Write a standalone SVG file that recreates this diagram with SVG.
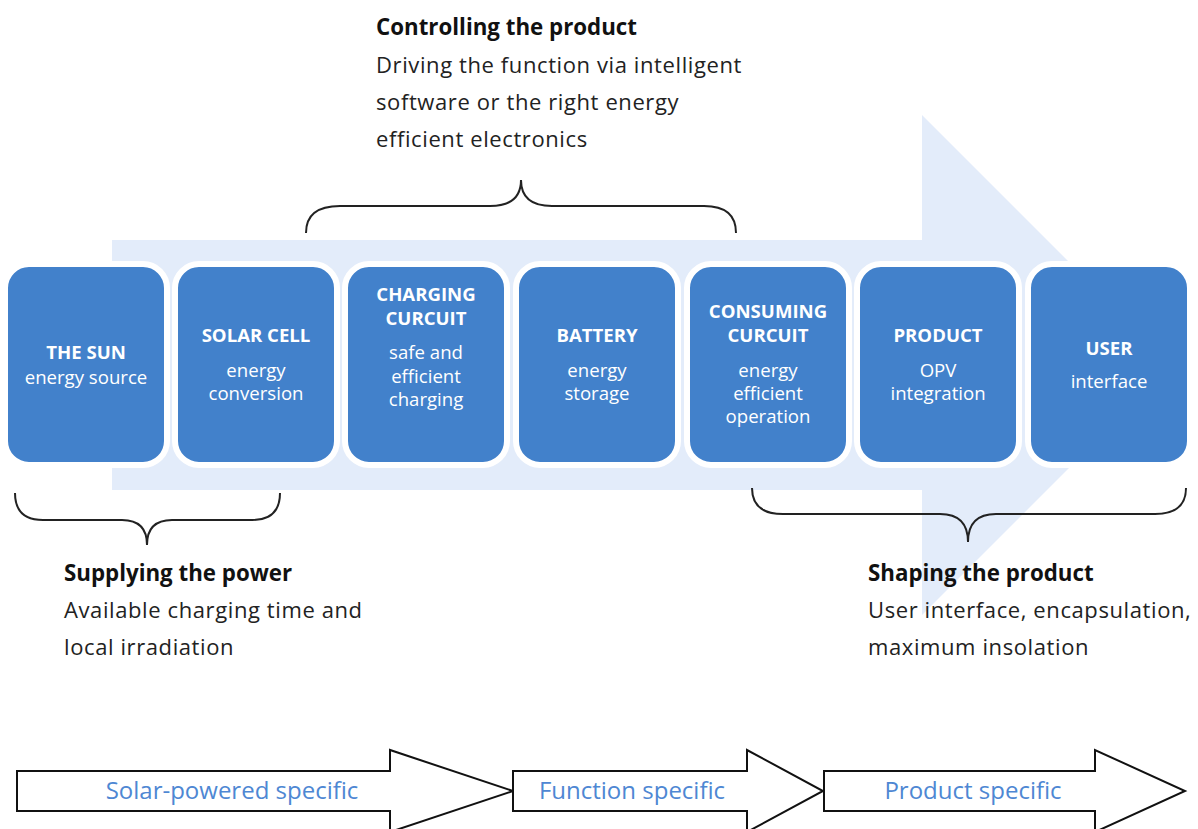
<svg xmlns="http://www.w3.org/2000/svg" width="1198" height="829" viewBox="0 0 1198 829">
<style>
.box{fill:#4281CB;stroke:#ffffff;stroke-width:6}
.t{font-family:"Open Sans","Liberation Sans",sans-serif;font-size:18.6px;fill:#ffffff;text-anchor:middle}
.b{font-weight:bold}
.h{font-family:"Open Sans","Liberation Sans",sans-serif;font-size:22.3px;font-weight:bold;fill:#111111}
.p{font-family:"Open Sans","Liberation Sans",sans-serif;font-size:22px;letter-spacing:0.6px;fill:#222222}
.brace{fill:none;stroke:#222222;stroke-width:2}
.blk{fill:#ffffff;stroke:#111111;stroke-width:2}
.at{font-family:"Open Sans","Liberation Sans",sans-serif;font-size:24px;fill:#4E87D3;text-anchor:middle}
</style>
<rect width="1198" height="829" fill="#ffffff"/>
<g id="flow-arrow">
<polygon points="112,240 922,240 922,115 1172,365 922,615 922,490 112,490" fill="#E3ECFA"/>
</g>
<g id="connectors">
<path class="brace" d="M306,233 Q306,206 340,206 L490,206 Q521,206 521,180 Q521,206 552,206 L704,206 Q736,206 736,233"/>
<path class="brace" d="M15,493 Q15,520 43,520 L122,520 Q147,520 147,545 Q147,520 172,520 L252,520 Q280,520 280,493"/>
<path class="brace" d="M752,488 Q752,514 783,514 L940,514 Q968,514 968,542 Q968,514 996,514 L1155,514 Q1186,514 1186,488"/>
</g>
<g id="sun">
<rect class="box" x="5" y="264" width="162" height="201" rx="24"/>
<text class="t b" x="86" y="359">THE SUN</text>
<text class="t" x="86" y="384">energy source</text>
</g>
<g id="solar-cell">
<rect class="box" x="175" y="264" width="162" height="201" rx="24"/>
<text class="t b" x="256" y="342">SOLAR CELL</text>
<text class="t" x="256" y="377">energy</text>
<text class="t" x="256" y="400">conversion</text>
</g>
<g id="charging-circuit">
<rect class="box" x="345" y="264" width="162" height="201" rx="24"/>
<text class="t b" x="426" y="301">CHARGING</text>
<text class="t b" x="426" y="325">CURCUIT</text>
<text class="t" x="426" y="359">safe and</text>
<text class="t" x="426" y="383">efficient</text>
<text class="t" x="426" y="406">charging</text>
</g>
<g id="battery">
<rect class="box" x="516" y="264" width="162" height="201" rx="24"/>
<text class="t b" x="597" y="342">BATTERY</text>
<text class="t" x="597" y="377">energy</text>
<text class="t" x="597" y="400">storage</text>
</g>
<g id="consuming-circuit">
<rect class="box" x="687" y="264" width="162" height="201" rx="24"/>
<text class="t b" x="768" y="318">CONSUMING</text>
<text class="t b" x="768" y="342">CURCUIT</text>
<text class="t" x="768" y="377">energy</text>
<text class="t" x="768" y="400">efficient</text>
<text class="t" x="768" y="423">operation</text>
</g>
<g id="product">
<rect class="box" x="857" y="264" width="162" height="201" rx="24"/>
<text class="t b" x="938" y="342">PRODUCT</text>
<text class="t" x="938" y="377">OPV</text>
<text class="t" x="938" y="400">integration</text>
</g>
<g id="user">
<rect class="box" x="1028" y="264" width="162" height="201" rx="24"/>
<text class="t b" x="1109" y="355">USER</text>
<text class="t" x="1109" y="388">interface</text>
</g>
<g id="controlling">
<text class="h" x="376" y="35">Controlling the product</text>
<text class="p" x="376" y="73">Driving the function via intelligent</text>
<text class="p" x="376" y="110">software or the right energy</text>
<text class="p" x="376" y="147">efficient electronics</text>
</g>
<g id="supplying">
<text class="h" x="64" y="581">Supplying the power</text>
<text class="p" x="64" y="618">Available charging time and</text>
<text class="p" x="64" y="655">local irradiation</text>
</g>
<g id="shaping">
<text class="h" x="868" y="581">Shaping the product</text>
<text class="p" x="868" y="618">User interface, encapsulation,</text>
<text class="p" x="868" y="655">maximum insolation</text>
</g>
<g id="solar-specific">
<polygon class="blk" points="17,771 390,771 390,750 513,791 390,832 390,811 17,811"/>
<text class="at" x="232" y="799">Solar-powered specific</text>
</g>
<g id="function-specific">
<polygon class="blk" points="513,771 747,771 747,750 823,791 747,832 747,811 513,811"/>
<text class="at" x="632" y="799">Function specific</text>
</g>
<g id="product-specific">
<polygon class="blk" points="824,771 1095,771 1095,750 1185,791 1095,832 1095,811 824,811"/>
<text class="at" x="973" y="799">Product specific</text>
</g>
</svg>
